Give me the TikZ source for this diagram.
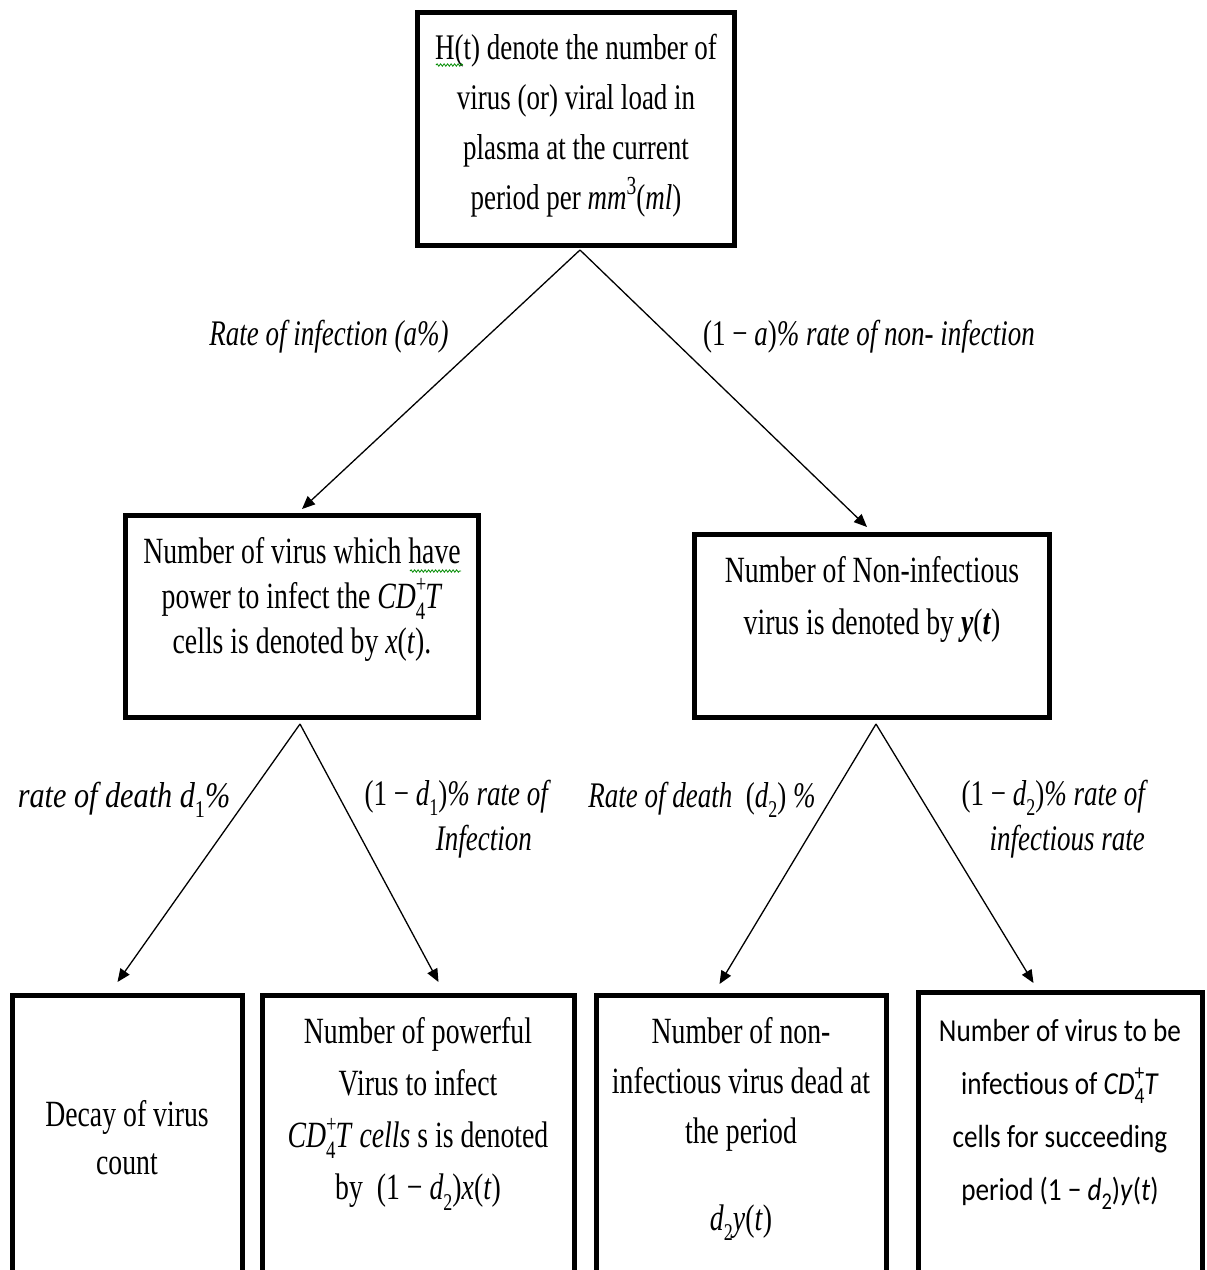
\documentclass[tikz,border=0pt]{standalone}
\usepackage{fontspec}
\setmainfont{Liberation Serif}[FakeStretch=0.75]
\newfontfamily\calfont{Carlito}[FakeStretch=0.85]
\usetikzlibrary{calc,arrows.meta,decorations.pathmorphing}
\newcommand{\lowsub}[1]{\raisebox{-0.28em}{\upshape\fontsize{24}{24}\selectfont #1}}
\newcommand{\cdfour}{\textit{CD}\makebox[0pt][l]{\raisebox{0.42em}{\upshape\fontsize{25}{25}\selectfont +}}\raisebox{-0.3em}{\upshape\fontsize{25}{25}\selectfont 4}\textit{T}}
\begin{document}
\begin{tikzpicture}[x=1pt,y=-1pt,
  box/.style={draw, line width=5pt, rectangle, inner sep=0pt},
  txt/.style={align=center, inner sep=0pt, font=\fontsize{37}{50}\selectfont},
  lab/.style={inner sep=0pt, font=\fontsize{36}{45}\selectfont\itshape},
  arr/.style={line width=1.3pt, -{Triangle[length=13pt,width=11pt]}},
  squig/.style={draw=green!55!black, line width=0.8pt, decorate, decoration={snake, amplitude=1.2pt, segment length=3.5pt}}]
\useasboundingbox (0,0) rectangle (1207,1270);
\fill[white] (0,0) rectangle (1207,1270);

% boxes
\node[box, minimum width=317pt, minimum height=233pt] (top) at (576,129) {};
\node[box, minimum width=353pt, minimum height=202pt] (ml) at (302,616.5) {};
\node[box, minimum width=355pt, minimum height=183pt] (mr) at (872,626) {};
\node[box, minimum width=230pt, minimum height=300pt] (b1) at (127.5,1145.5) {};
\node[box, minimum width=312pt, minimum height=300pt] (b2) at (418.5,1145.5) {};
\node[box, minimum width=290pt, minimum height=300pt] (b3) at (741.5,1145.5) {};
\node[box, minimum width=284pt, minimum height=303pt] (b4) at (1060.5,1144) {};

% box texts
\node[txt, font=\fontsize{36}{50}\selectfont] (ttop) at (576,126) {H(t) denote the number of\\ virus (or) viral load in\\ plasma at the current\\ period per \textit{mm}\raisebox{0.42em}{\fontsize{26}{26}\selectfont 3}(\textit{ml})};
\node[txt, font=\fontsize{37}{45}\selectfont] (tml) at (302,599) {Number of virus which have\\ power to infect the \cdfour\\ cells is denoted by \textit{x}(\textit{t}).};
\node[txt, font=\fontsize{37}{52}\selectfont] (tmr) at (872,599) {Number of Non-infectious\\ virus is denoted by \textbf{\textit{y}}(\textbf{\textit{t}})};
\node[txt, font=\fontsize{37}{48}\selectfont] (tb1) at (127,1138) {Decay of virus\\ count};
\node[txt, font=\fontsize{37}{52}\selectfont] (tb2) at (418,1114) {Number of powerful\\ Virus to infect\\ \cdfour\ \textit{cells} s is denoted\\ by \ (1 − \textit{d}\lowsub{2})\textit{x}(\textit{t})};
\node[txt, font=\fontsize{37}{50}\selectfont] (tb3) at (741,1129) {Number of non-\\ infectious virus dead at\\ the period\\[37pt] \textit{d}\lowsub{2}\textit{y}(\textit{t})};
\node[txt, font=\calfont\fontsize{32}{53}\selectfont] (tb4) at (1060,1114) {Number of virus to be\\ infectious of \textit{CD}\makebox[0pt][l]{\raisebox{0.42em}{\fontsize{23}{23}\selectfont +}}\raisebox{-0.3em}{\fontsize{23}{23}\selectfont 4}\textit{T}\\ cells for succeeding\\ period (1 − \textit{d}\lowsub{2})\textit{y}(\textit{t})};

% connectors
\draw[arr] ($(top.south)+(4,2)$) -- ($(ml.north)+(0,-4)$);
\draw[arr] ($(top.south)+(4,2)$) -- ($(mr.north)+(-5,-5)$);
\draw[arr] ($(ml.south)+(-2,4)$) -- ($(b1.north)+(-10,-11)$);
\draw[arr] ($(ml.south)+(-2,4)$) -- ($(b2.north)+(20,-11)$);
\draw[arr] ($(mr.south)+(4,4)$) -- ($(b3.north)+(-22,-9)$);
\draw[arr] ($(mr.south)+(4,4)$) -- ($(b4.north)+(-27,-7)$);

% labels
\node[lab] (l1) at (329,337) {Rate of infection (\textit{a}\%)};
\node[lab] (l2) at (869,337) {\upshape(1 − \itshape a\upshape)\itshape\% rate of non- infection};
\node[lab, xscale=1.12] (l3) at (124,800) {rate of  death \textit{d}\lowsub{1}\%};
\node[lab, align=right, anchor=north east] (l4) at (548,780) {\upshape(1 − \itshape d\lowsub{1}\upshape)\itshape\% rate of\\ Infection\hspace*{16pt}};
\node[lab] (l5) at (702,800) {Rate of death \ \upshape(\itshape d\lowsub{2}\upshape) \itshape\%};
\node[lab, align=right, anchor=north east] (l6) at (1145,780) {\upshape(1 − \itshape d\lowsub{2}\upshape)\itshape\% rate of\\ infectious rate};

% spell-check squiggles
\draw[squig] (436,65) -- (463,65);
\draw[squig] (410,571) -- (461,571);
\end{tikzpicture}
\end{document}
